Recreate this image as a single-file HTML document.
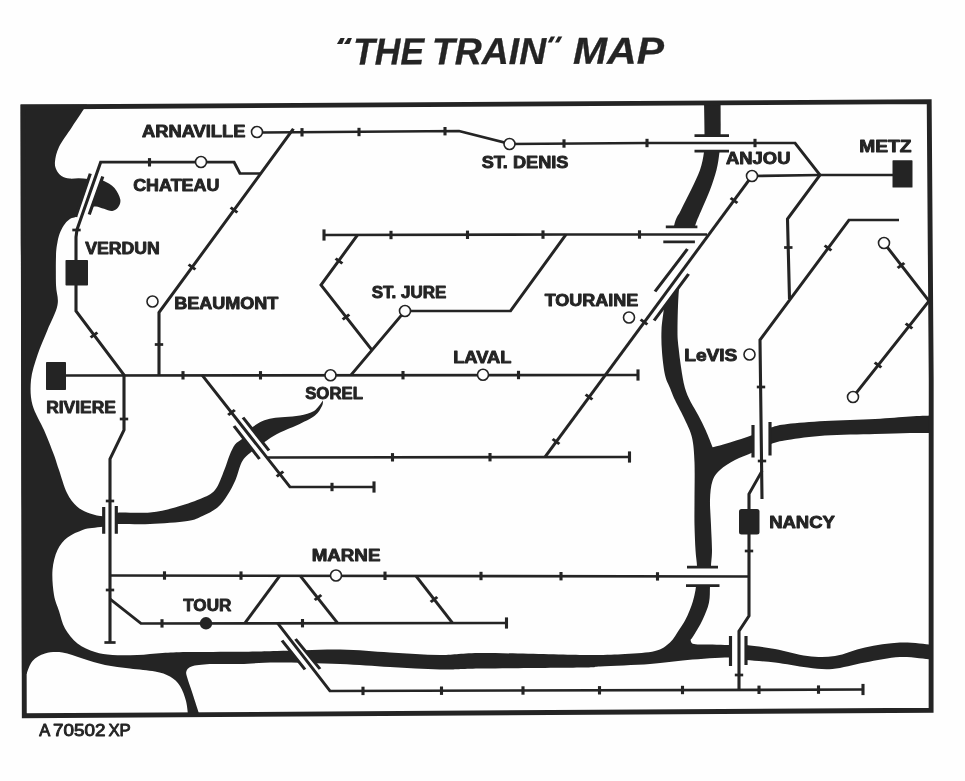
<!DOCTYPE html>
<html lang="en"><head><meta charset="utf-8"><title>"THE TRAIN" MAP</title>
<style>html,body{margin:0;padding:0;background:#fefefe;}body{width:965px;height:781px;overflow:hidden;}svg{display:block;filter:grayscale(1);}text{font-family:"Liberation Sans",sans-serif;font-weight:bold;fill:#242424;}</style></head><body>
<svg width="965" height="781" viewBox="0 0 965 781">
<rect width="965" height="781" fill="#fefefe"/>
<g font-size="37.5" font-style="italic" transform="rotate(-0.19 500 64)" stroke="#242424" stroke-width="0.3">
<text x="353.2" y="64" textLength="71" lengthAdjust="spacingAndGlyphs">THE</text>
<text x="432" y="64" textLength="114.2" lengthAdjust="spacingAndGlyphs">TRAIN</text>
<text x="573" y="64" textLength="91" lengthAdjust="spacingAndGlyphs">MAP</text>
</g>
<path d="M336.9,43.9L342.3,43.9L344.7,38L340.5,38Z" fill="#242424"/>
<path d="M344,43.9L349.4,43.9L351.9,38L347.9,38Z" fill="#242424"/>
<path d="M547.8,42.5L551.7,42.5L555.1,36.5L550.9,36.5Z" fill="#242424"/>
<path d="M555,42.5L558.9,42.5L562.3,36.5L558.2,36.5Z" fill="#242424"/>
<path d="M20.6,104.6C31.7,104.6 75.9,104.6 87,104.6C84.5,108.3 76.7,119.9 72,127C67.3,134.1 61.8,141.2 59,147C56.2,152.8 55.4,157.7 55,161.5C54.6,165.3 55.4,167.6 56.5,170C57.6,172.4 59.3,174.6 61.5,176C63.7,177.4 66.7,178.2 69.6,178.6C72.5,179 75.7,178.1 78.8,178.2C81.9,178.3 85,178.7 88,179C91,179.3 94.3,179.7 97,180C99.7,180.3 101.1,179.7 104,181C106.9,182.3 111.8,184.9 114.5,188C117.2,191.1 119.7,196.2 120.3,199.5C120.9,202.8 119.3,205.7 118,207.6C116.7,209.5 114.5,210.8 112.2,211C109.9,211.2 106.7,209.6 104,208.8C101.3,208.1 98.3,206.6 96,206.5C93.7,206.4 92.3,206.8 90,208C87.7,209.2 84.4,212.5 82,214C79.6,215.5 77.5,216.2 75.6,217C73.7,217.8 72.5,217.4 70.7,218.5C68.9,219.6 66.7,221.5 65,223.7C63.3,225.9 61.6,228.8 60.4,231.8C59.1,234.9 58.2,238 57.5,242C56.8,246 56.2,248.8 56,256C55.8,263.2 55.8,276.8 56,285C56.2,293.2 58.9,297.5 57.5,305C56.1,312.5 50.8,321.7 47.5,330C44.2,338.3 40.2,346.7 37.5,355C34.8,363.3 31.8,371.7 31,380C30.2,388.3 30.3,396.7 32.5,405C34.7,413.3 40.4,421.7 44,430C47.6,438.3 51.5,448.3 54,455C56.5,461.7 56.8,463.7 59,470C61.2,476.3 64,486.9 67,493C70,499.1 73.2,503.1 77,506.5C80.8,509.9 85.7,511.9 90,513.5C94.3,515.1 99.7,516 103,516.3C106.3,516.5 107.6,515.6 110,515C112.4,514.4 110.8,513.1 117.5,512.7C124.2,512.3 140.4,513.4 150,512.5C159.6,511.6 166.7,509.8 175,507.5C183.3,505.2 193.3,501.9 200,499C206.7,496.1 210.9,494.8 215,490C219.1,485.2 221.9,475.8 224.3,470C226.7,464.2 227.7,459.8 229.5,455.5C231.3,451.2 232.9,447.2 235,444.5C237.1,441.8 240,440.9 242,439C244,437.1 245.2,435 247,433C248.8,431 250.1,428.9 252.6,427C255.1,425.1 258.7,422.8 262,421.3C265.3,419.9 268.7,419 272.5,418.3C276.3,417.6 280.4,417.5 285,417C289.6,416.5 295.2,416.5 300,415.5C304.8,414.5 310.2,413.5 314,411C317.8,408.5 321.5,402.2 323,400.5C322.8,401.4 323.3,403.5 322,406C320.7,408.5 319.1,412.3 315,415.5C310.9,418.7 303.3,422.2 297.5,425C291.7,427.8 285,430 280,432.5C275,435 272.1,436.9 267.5,440C262.9,443.1 256.2,448.1 252.5,451C248.8,453.9 247,455.2 245,457.5C243,459.8 242.1,461.2 240.5,465C238.9,468.8 237.7,475 235.5,480C233.3,485 230.5,490.4 227.5,495C224.5,499.6 221.7,504 217.5,507.5C213.3,511 207.5,513.8 202.5,516C197.5,518.2 196.2,519.7 187.5,521C178.8,522.3 161.7,523.5 150,524C138.3,524.5 124.2,523.8 117.5,524C110.8,524.2 112.4,525 110,525.5C107.6,526 106,526.3 103,526.7C100,527.1 95.4,527.5 92,528C88.6,528.5 86.6,528.4 82.5,530C78.4,531.6 71.7,534.2 67.5,537.5C63.3,540.8 60,544.6 57.5,550C55,555.4 53.1,562.5 52.5,570C51.9,577.5 52.9,588.2 54,595C55.1,601.8 57.2,605.4 59,611C60.8,616.6 61.9,623.1 65,628.5C68.1,633.9 72.5,639.6 77.5,643.5C82.5,647.4 89.2,650.1 95,652C100.8,653.9 105.4,654.5 112.5,655C119.6,655.5 129.2,655.3 137.5,655C145.8,654.7 154.2,653.5 162.5,653C170.8,652.5 174.6,652.2 187.5,652C200.4,651.8 225.1,652 240,651.8C254.9,651.6 260.3,651.4 277,651C293.7,650.6 321.2,649.2 340,649.5C358.8,649.8 373.3,651.6 390,652.5C406.7,653.4 424.5,654.9 440,655C455.5,655.1 459.2,653 483,653C506.8,653 559.3,654.8 583,655C606.7,655.2 613,654.7 625,654C637,653.3 647.5,652.9 655,651C662.5,649.1 666,646.1 670,642.5C674,638.9 676.8,633.2 679.3,629.5C681.8,625.8 683.3,623.6 685,620.5C686.7,617.4 688.2,614 689.5,610.7C690.8,607.5 692,604.5 693,601C694,597.5 694.9,593.5 695.5,590C696.1,586.5 696.2,584 696.5,580C696.8,576 697.2,571 697,566C696.8,561 695.9,556.8 695.5,550C695.1,543.2 694.7,533.3 694.5,525C694.3,516.7 694.5,510.4 694.5,500C694.5,489.6 694.9,472.9 694.5,462.5C694.1,452.1 693.6,444.6 692,437.5C690.4,430.4 687.8,426.2 685,420C682.2,413.8 677.5,405.3 675,400C672.5,394.7 671.7,392.2 670,388C668.3,383.8 666.3,381 665,375C663.7,369 662.6,359.5 662,352C661.4,344.5 661.2,337.4 661.5,330C661.8,322.6 662.9,317.5 664,307.5C665.1,297.5 666.3,283.6 668,270C669.7,256.4 671.8,236 674,226C676.2,216 678.2,216 681,210C683.8,204 687.8,196.7 691,190C694.2,183.3 697.8,176.3 700,170C702.2,163.7 703.2,157.8 704,152C704.8,146.2 704.5,143.5 704.5,135C704.5,126.5 704.1,106.7 704,101C706.8,101 717.8,101 720.6,101C720.6,106.7 720.8,126.5 720.6,135C720.4,143.5 720.2,146.2 719.5,152C718.8,157.8 718.1,163.7 716.5,170C714.9,176.3 712.5,183.3 710,190C707.5,196.7 704,204 701.5,210C699,216 697.9,217.7 695,226C692.1,234.3 686.7,249.5 684,260C681.3,270.5 680.1,277.3 679,289C677.9,300.7 677.6,320.2 677.5,330C677.4,339.8 678,341.8 678.6,348C679.2,354.2 680,360.4 681,367C682,373.6 683.2,381.8 684.8,387.6C686.4,393.4 688.4,397.4 690.7,402C693,406.6 695.9,410.6 698.4,415.4C700.9,420.1 703.4,425.2 705.8,430.5C708.2,435.8 711.5,444.5 712.6,447.3C715.5,446.5 723.4,444.6 730,442.5C736.6,440.4 745.7,437.5 752.5,435C759.3,432.5 765.2,429.3 771,427.5C776.8,425.7 778.5,425.1 787.5,424C796.5,422.9 810.4,421.8 825,421C839.6,420.2 860.8,419.8 875,419C889.2,418.2 900.7,417.1 910,416.5C919.3,415.9 927.5,415.7 931,415.5C931,418.4 931,430.1 931,433C927.5,433 919.3,432.8 910,433C900.7,433.2 889.2,433.6 875,434C860.8,434.4 839.6,434.5 825,435.5C810.4,436.5 796.5,438.6 787.5,440C778.5,441.4 776.8,441.9 771,444C765.2,446.1 758.5,449.8 752.5,452.5C746.5,455.2 740.4,457.1 735,460C729.6,462.9 723.8,466.5 720,470C716.2,473.5 714.2,476 712.5,481C710.8,486 710.2,492.7 710,500C709.8,507.3 710.7,516.7 711,525C711.3,533.3 712,543.2 712,550C712,556.8 711.3,560 711,566C710.7,572 710.3,579.9 710,586C709.7,592.1 710.2,596.8 709,602.5C707.8,608.2 705,614.6 702.5,620C700,625.4 696,631.7 694,635C692,638.3 691.1,639.2 690.5,640C691.1,640.7 690.3,643.2 694,644C697.7,644.8 706.7,644.3 712.5,644.5C718.3,644.7 723.4,644.9 729,645C734.6,645.1 738.3,644.3 746,645C753.7,645.7 764.8,647.2 775,649C785.2,650.8 797.5,654.8 807.5,656C817.5,657.2 825.4,657.4 835,656C844.6,654.6 854.2,649.8 865,647.5C875.8,645.2 889,643 900,642.5C911,642 925.8,644.2 931,644.5C931,647 931,657 931,659.5C925.8,659.1 911,656.5 900,657C889,657.5 876.2,660.5 865,662.5C853.8,664.5 842.1,668.2 832.5,669C822.9,669.8 817.1,668.6 807.5,667.5C797.9,666.4 785.2,663.8 775,662.5C764.8,661.2 753.7,660.8 746,660C738.3,659.2 738.8,657.5 729,657.5C719.2,657.5 700.7,658.9 687.5,660C674.3,661.1 664.6,662.9 650,664C635.4,665.1 611.2,665.9 600,666.5C588.8,667.1 602.5,667.2 583,667.5C563.5,667.8 506.8,668.2 483,668.5C459.2,668.8 455.5,669.8 440,669.5C424.5,669.2 406.7,667.9 390,667C373.3,666.1 358.8,664.8 340,664C321.2,663.2 293.7,662.5 277,662.5C260.3,662.5 250.8,663.8 240,664C229.2,664.2 220.3,663.7 212.5,664C204.7,664.3 197.3,664.8 193,666C188.7,667.2 187.4,668.9 186.5,671C185.6,673.1 186.5,674.8 187.5,678.5C188.5,682.2 190.5,687.4 192.5,693.5C194.5,699.6 198.3,711.4 199.5,715C197.6,715 189.9,715 188,715C187.7,712.7 187.3,705.8 186,701C184.7,696.2 182.7,690.1 180,686C177.3,681.9 174.2,678.9 170,676.5C165.8,674.1 161.7,672.8 155,671.5C148.3,670.2 138.3,669.6 130,668.5C121.7,667.4 112.9,666.7 105,665C97.1,663.3 89.6,660.6 82.5,658.5C75.4,656.4 68.8,653.3 62.5,652.5C56.2,651.7 50,652.1 45,653.5C40,654.9 35.6,657.6 32.5,661C29.4,664.4 27.5,671.8 26.5,674C25.8,674 22.8,674 22,674C21.8,579.1 20.8,199.5 20.6,104.6Z" fill="#242424"/>
<path d="M23,107L929.2,101.6L931.2,380L931.1,710.2L24.3,715.75Z" fill="none" stroke="#242424" stroke-width="4.9" stroke-linejoin="miter"/>
<path d="M640,226.8L700,226.8L700,260L688.6,274L654.1,320.6L640,321Z" fill="#fefefe"/>
<path d="M90.3,173.6L75.6,216.8L89.2,214.5L102.8,176.5Z" fill="#fefefe"/>
<path d="M103.7,507L103.7,533.8L116.3,533.8L116.3,506Z" fill="#fefefe"/>
<path d="M234,426L259.5,459L269,450.5L243,417.5Z" fill="#fefefe"/>
<path d="M282,640.5L305,669.5L320,669L295.5,639Z" fill="#fefefe"/>
<path d="M694.5,135.5L729,135.5L729,151L694.5,151Z" fill="#fefefe"/>
<path d="M665.8,226.8L697.4,226.8L694.9,241.8L663.3,241.8Z" fill="#fefefe"/>
<path d="M687.4,249.1L655,291.5L654.1,320.6L688.6,274Z" fill="#fefefe"/>
<path d="M753,425L753,457.5L770,455.5L770,422Z" fill="#fefefe"/>
<path d="M687,567L718,567L719.5,585.5L686,585.5Z" fill="#fefefe"/>
<path d="M730.5,636L730.5,666L746,665L746,636Z" fill="#fefefe"/>
<g transform="scale(1.15 1)" fill="none" stroke="#242424" stroke-width="2.7" stroke-linejoin="miter" stroke-linecap="butt">
<path d="M228.70,132.5L399.13,131L443.48,144L562.61,143L691.30,143L713.04,175"/>
<path d="M653.91,176L713.04,175L776.52,175"/>
<path d="M255.13,128.8L138.26,312.5L138.26,375"/>
<path d="M66.09,260L66.09,237L66.96,229.5L87.57,162.2L203.48,162L208.70,173.5L226.09,173.5"/>
<path d="M66.09,285L66.09,311L107.83,375L107.83,430L95.65,459L95.65,642.5"/>
<path d="M57.39,375.5L554.78,375"/>
<path d="M175.65,375L252.17,487L325.22,487"/>
<path d="M232.61,457.5L547.39,457"/>
<path d="M281.74,235L492.17,234.5L614.78,234.5"/>
<path d="M310.87,235L279.13,285L323.74,350.5"/>
<path d="M305.22,375L352.17,311L443.91,311L492.17,234.5"/>
<path d="M653.91,176L473.91,457"/>
<path d="M713.04,175L684.78,219L686.52,299"/>
<path d="M781.74,220L738.26,220L660.87,340L662.61,499"/>
<path d="M662.61,471L651.30,494L651.30,616L642.61,631L642.61,689.5"/>
<path d="M768.70,243L807.83,301L741.74,397"/>
<path d="M95.65,575.5L651.30,576.5"/>
<path d="M95.65,599L122.61,623.5L440.43,623"/>
<path d="M243.48,575.5L213.04,623"/>
<path d="M260.87,575.5L293.48,623"/>
<path d="M361.74,576L393.48,623"/>
<path d="M241.30,623L286.96,691L750.43,689.5"/>
<path d="M262.61,128.1L262.61,136.5"/>
<path d="M312.17,127.8L312.17,136.2"/>
<path d="M386.96,127L386.96,135.4"/>
<path d="M490.43,139.3L490.43,147.7"/>
<path d="M562.61,138.8L562.61,147.2"/>
<path d="M656.52,138.8L656.52,147.2"/>
<path d="M130.00,158.1L130.00,166.5"/>
<path d="M206.43,212.5L200.53,207.5"/>
<path d="M169.90,269.5L164.01,264.5"/>
<path d="M141.91,344.5L134.61,344.5"/>
<path d="M84.66,332.5L78.82,337.5"/>
<path d="M111.48,419L104.17,419"/>
<path d="M99.30,501L92.00,501"/>
<path d="M99.30,590L92.00,590"/>
<path d="M70.17,230L62.87,230"/>
<path d="M159.13,371.1L159.13,379.5"/>
<path d="M226.52,371.1L226.52,379.5"/>
<path d="M350.43,371L350.43,379.4"/>
<path d="M450.87,370.8L450.87,379.2"/>
<path d="M204.18,409.9L198.43,415.1"/>
<path d="M246.35,471.4L240.61,476.6"/>
<path d="M288.70,482.8L288.70,491.2"/>
<path d="M341.30,453.1L341.30,461.5"/>
<path d="M426.09,453L426.09,461.4"/>
<path d="M340.00,230.8L340.00,239.2"/>
<path d="M406.52,230.6L406.52,239"/>
<path d="M472.17,230.4L472.17,238.8"/>
<path d="M556.09,230.3L556.09,238.7"/>
<path d="M297.73,263.5L291.83,258.5"/>
<path d="M303.74,314.4L298.00,319.6"/>
<path d="M641.20,203L635.32,198"/>
<path d="M562.94,324.5L557.06,319.5"/>
<path d="M515.11,399.5L509.23,394.5"/>
<path d="M486.42,444L480.54,439"/>
<path d="M689.13,247.5L681.83,247.5"/>
<path d="M722.93,250.5L717.07,245.5"/>
<path d="M665.39,387L658.09,387"/>
<path d="M666.26,461L658.96,461"/>
<path d="M654.96,551L647.65,551"/>
<path d="M646.26,675L638.96,675"/>
<path d="M786.36,262.9L780.59,268.1"/>
<path d="M793.30,328.6L787.57,323.4"/>
<path d="M766.34,367.6L760.61,362.4"/>
<path d="M143.04,571.3L143.04,579.7"/>
<path d="M209.57,571.4L209.57,579.8"/>
<path d="M334.78,571.6L334.78,580"/>
<path d="M418.26,571.8L418.26,580.2"/>
<path d="M487.83,572L487.83,580.4"/>
<path d="M571.74,572.2L571.74,580.6"/>
<path d="M140.87,619.2L140.87,627.6"/>
<path d="M263.04,619L263.04,627.4"/>
<path d="M279.39,594.9L273.66,600.1"/>
<path d="M380.26,596.9L374.52,602.1"/>
<path d="M315.65,686.7L315.65,695.1"/>
<path d="M383.91,686.5L383.91,694.9"/>
<path d="M454.78,686.3L454.78,694.7"/>
<path d="M521.30,686.1L521.30,694.5"/>
<path d="M593.48,685.8L593.48,694.2"/>
<path d="M660.00,685.6L660.00,694"/>
<path d="M711.74,685.4L711.74,693.8"/>
<path d="M554.78,369.4L554.78,380.6"/>
<path d="M281.74,229.4L281.74,240.6"/>
<path d="M325.22,481.4L325.22,492.6"/>
<path d="M547.39,451.4L547.39,462.6"/>
<path d="M440.43,617.4L440.43,628.6"/>
<path d="M750.43,683.9L750.43,695.1"/>
<path d="M100.52,642.5L90.78,642.5"/>
</g>
<g transform="scale(1.15 1)" fill="none" stroke="#242424" stroke-width="2.75" stroke-linecap="butt">
<path d="M78.52,173.6L65.74,216.8M89.39,176.5L77.57,214.5"/>
<path d="M90.17,507L90.17,533.8M101.13,506L101.13,533.8"/>
<path d="M203.48,426L225.65,459M211.30,417.5L233.91,450.5"/>
<path d="M245.22,640.5L265.22,669.5M256.96,639L278.26,669"/>
<path d="M603.91,135.5L633.91,135.5M603.91,151L633.91,151"/>
<path d="M578.96,226.8L606.43,226.8M576.78,241.8L604.26,241.8"/>
<path d="M597.74,249.1L569.57,291.5M598.78,274L568.78,320.6"/>
<path d="M654.78,425L654.78,457.5M669.57,422L669.57,455.5"/>
<path d="M597.39,567L624.35,567M596.52,585.5L625.65,585.5"/>
<path d="M635.22,636L635.22,666M648.70,636L648.70,665"/>
</g>
<rect x="65.5" y="260" width="22.5" height="25.5" rx="0.8" fill="#242424"/>
<rect x="46" y="362" width="20" height="28" rx="0.8" fill="#242424"/>
<rect x="892.5" y="160.3" width="20" height="27.2" rx="0.6" fill="#242424"/>
<rect x="739" y="509" width="20.5" height="25.5" rx="2.5" fill="#242424"/>
<circle cx="257" cy="132" r="5.5" fill="#fefefe" stroke="#242424" stroke-width="1.6"/>
<circle cx="201" cy="162" r="5.5" fill="#fefefe" stroke="#242424" stroke-width="1.6"/>
<circle cx="152.5" cy="301.5" r="5.5" fill="#fefefe" stroke="#242424" stroke-width="1.6"/>
<circle cx="405" cy="311" r="5.5" fill="#fefefe" stroke="#242424" stroke-width="1.6"/>
<circle cx="330.5" cy="375.3" r="5.5" fill="#fefefe" stroke="#242424" stroke-width="1.6"/>
<circle cx="483" cy="374.8" r="5.5" fill="#fefefe" stroke="#242424" stroke-width="1.6"/>
<circle cx="509.5" cy="144" r="5.5" fill="#fefefe" stroke="#242424" stroke-width="1.6"/>
<circle cx="752" cy="176" r="5.5" fill="#fefefe" stroke="#242424" stroke-width="1.6"/>
<circle cx="629" cy="317.5" r="5.5" fill="#fefefe" stroke="#242424" stroke-width="1.6"/>
<circle cx="749.5" cy="354.5" r="5.5" fill="#fefefe" stroke="#242424" stroke-width="1.6"/>
<circle cx="884" cy="243" r="5.5" fill="#fefefe" stroke="#242424" stroke-width="1.6"/>
<circle cx="853" cy="397" r="5.5" fill="#fefefe" stroke="#242424" stroke-width="1.6"/>
<circle cx="336" cy="575.5" r="5.5" fill="#fefefe" stroke="#242424" stroke-width="1.6"/>
<circle cx="206" cy="623.3" r="6.2" fill="#242424"/>
<g stroke="#242424" stroke-width="0.85" stroke-linejoin="round">
<text x="142" y="137.3" font-size="15.8" textLength="103.4" lengthAdjust="spacingAndGlyphs">ARNAVILLE</text>
<text x="133.2" y="191" font-size="15.8" textLength="86.2" lengthAdjust="spacingAndGlyphs">CHATEAU</text>
<text x="85.2" y="254" font-size="15.8" textLength="74.7" lengthAdjust="spacingAndGlyphs">VERDUN</text>
<text x="174.2" y="309.3" font-size="15.8" textLength="104.2" lengthAdjust="spacingAndGlyphs">BEAUMONT</text>
<text x="371.7" y="298.3" font-size="15.8" textLength="74.7" lengthAdjust="spacingAndGlyphs">ST. JURE</text>
<text x="544.7" y="305.8" font-size="15.8" textLength="93.7" lengthAdjust="spacingAndGlyphs">TOURAINE</text>
<text x="453.2" y="363" font-size="15.8" textLength="58.2" lengthAdjust="spacingAndGlyphs">LAVAL</text>
<text x="305.2" y="399" font-size="15.8" textLength="57.7" lengthAdjust="spacingAndGlyphs">SOREL</text>
<text x="46.2" y="413" font-size="15.8" textLength="69.7" lengthAdjust="spacingAndGlyphs">RIVIERE</text>
<text x="684.2" y="361.3" font-size="15.8" textLength="53.2" lengthAdjust="spacingAndGlyphs">LeVIS</text>
<text x="481.7" y="167.5" font-size="15.8" textLength="86.7" lengthAdjust="spacingAndGlyphs">ST. DENIS</text>
<text x="726.1" y="164" font-size="15.8" textLength="64.3" lengthAdjust="spacingAndGlyphs">ANJOU</text>
<text x="859.2" y="152" font-size="15.8" textLength="52.2" lengthAdjust="spacingAndGlyphs">METZ</text>
<text x="769.2" y="528" font-size="15.8" textLength="65.7" lengthAdjust="spacingAndGlyphs">NANCY</text>
<text x="311.7" y="560.8" font-size="15.8" textLength="68.7" lengthAdjust="spacingAndGlyphs">MARNE</text>
<text x="183.2" y="611.3" font-size="15.8" textLength="48.2" lengthAdjust="spacingAndGlyphs">TOUR</text>
</g>
<g font-size="17.2" stroke="#242424" stroke-width="0.95" stroke-linejoin="round" style="font-weight:normal">
<text x="39.2" y="736.2" textLength="11" lengthAdjust="spacingAndGlyphs" style="font-weight:normal">A</text>
<text x="53" y="736.2" textLength="52.4" lengthAdjust="spacingAndGlyphs" style="font-weight:normal">70502</text>
<text x="108.4" y="736.2" textLength="22.4" lengthAdjust="spacingAndGlyphs" style="font-weight:normal">XP</text>
</g>
</svg></body></html>
